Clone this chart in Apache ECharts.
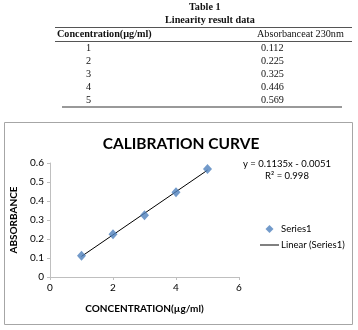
<!DOCTYPE html>
<html>
<head>
<meta charset="utf-8">
<script src="https://cdn.jsdelivr.net/npm/echarts@6/dist/echarts.min.js"></script>
<style>
    html, body { margin: 0; padding: 0; background: #fff; }
    #wrap { position: relative; width: 358px; height: 330px; overflow: hidden; }
    #chart { position: absolute; left: 0; top: 0; width: 358px; height: 330px; }
    .tt { position: absolute; font-family: 'Liberation Serif', 'DejaVu Serif', serif; font-size: 10.2px; color: #111; white-space: nowrap; line-height: 12px; }
    .b { font-weight: bold; }
    .rule { position: absolute; height: 0; }
</style>
</head>
<body>
<div id="wrap">
    <div id="chart"></div>
    <div id="table"></div>
</div>
<script>
    const concentration = [1, 2, 3, 4, 5]
    const absorbance = [0.112, 0.225, 0.325, 0.446, 0.569]
    const slope = 0.1135
    const intercept = -0.0051
    const rSquared = 0.998

    // table above the chart
    const table = document.getElementById('table')
    function addText(text, x, y, cls) {
        const d = document.createElement('div')
        d.className = 'tt ' + (cls || '')
        d.textContent = text
        d.style.left = x + 'px'
        d.style.top = y + 'px'
        table.appendChild(d)
        return d
    }
    function addRule(x1, x2, y, w, color) {
        const d = document.createElement('div')
        d.className = 'rule'
        d.style.left = x1 + 'px'
        d.style.width = (x2 - x1) + 'px'
        d.style.top = y + 'px'
        d.style.borderTop = w + 'px solid ' + color
        table.appendChild(d)
    }
    const t1 = addText('Table 1', 0, 1, 'b')
    t1.style.left = (205 - t1.offsetWidth / 2) + 'px'
    const t2 = addText('Linearity result data', 0, 14, 'b')
    t2.style.left = (210 - t2.offsetWidth / 2) + 'px'
    addRule(55, 352, 27, 1, '#555')
    addText('Concentration(\u00b5g/ml)', 57, 28, 'b')
    addText('Absorbanceat 230nm', 257, 28)
    addRule(55, 352, 41, 1, '#555')
    const rowY = [42, 55, 68, 81, 94]
    concentration.forEach((c, i) => {
        addText(String(c), 86, rowY[i])
        addText(absorbance[i].toFixed(3), 261, rowY[i])
    })
    addRule(62, 342, 106, 2, '#999')

    const chart = echarts.init(document.getElementById('chart'))
    const font = 'Lato, Open Sans, sans-serif'
    const axisGray = '#bfbfbf'
    const trend = [
        [concentration[0], slope * concentration[0] + intercept],
        [concentration[concentration.length - 1], slope * concentration[concentration.length - 1] + intercept]
    ]

    const options = {
        animation: false,
        title: {
            text: 'CALIBRATION CURVE',
            left: 176,
            top: 131,
            textAlign: 'center',
            textStyle: { fontFamily: font, fontSize: 15.5, fontWeight: 'bold', color: '#000' }
        },
        grid: { left: 50, right: 119, top: 163, bottom: 53 },
        xAxis: {
            type: 'value',
            min: 0,
            max: 6,
            interval: 2,
            name: 'CONCENTRATION(\u00b5g/ml)',
            nameLocation: 'middle',
            nameGap: 27,
            nameTextStyle: { fontFamily: font, fontSize: 10, fontWeight: 'bold', color: '#000' },
            axisLine: { lineStyle: { color: axisGray, width: 1 } },
            axisTick: { show: true, length: 3, lineStyle: { color: axisGray } },
            axisLabel: { fontFamily: font, fontSize: 10, color: '#000', margin: 6 },
            splitLine: { show: false }
        },
        yAxis: {
            type: 'value',
            min: 0,
            max: 0.6,
            interval: 0.1,
            name: 'ABSORBANCE',
            nameLocation: 'middle',
            nameGap: 30,
            nameTextStyle: { fontFamily: font, fontSize: 10, fontWeight: 'bold', color: '#000' },
            axisLine: { show: true, lineStyle: { color: axisGray, width: 1 } },
            axisTick: { show: true, length: 3, lineStyle: { color: axisGray } },
            axisLabel: {
                fontFamily: font, fontSize: 10, color: '#000', margin: 6,
                formatter: v => String(Math.round(v * 10) / 10)
            },
            splitLine: { show: false }
        },
        series: [
            {
                name: 'Linear (Series1)',
                type: 'line',
                data: trend,
                symbol: 'none',
                itemStyle: { color: '#000' },
                lineStyle: { color: '#000', width: 1 },
                z: 2
            },
            {
                name: 'Series1',
                type: 'scatter',
                data: concentration.map((c, i) => [c, absorbance[i]]),
                symbol: 'diamond',
                symbolSize: [9, 10],
                itemStyle: { color: '#4f81bd' },
                z: 3
            }
        ],
        legend: {
            orient: 'vertical',
            left: 260,
            top: 224,
            padding: 0,
            itemGap: 6,
            itemWidth: 19,
            itemHeight: 8,
            symbolKeepAspect: true,
            textStyle: { fontFamily: font, fontSize: 9.5, color: '#000', padding: [0, 0, 0, -3] },
            data: [
                { name: 'Series1', icon: 'path://M5,0 L10,5 L5,10 L0,5 Z', itemStyle: { color: '#4f81bd' } },
                { name: 'Linear (Series1)', icon: 'path://M0,0 L19,0 L19,1 L0,1 Z', itemStyle: { color: '#000' } }
            ]
        },
        graphic: [
            {
                type: 'rect',
                shape: { x: 4.5, y: 122.5, width: 348, height: 202 },
                style: { fill: 'none', stroke: '#a6a6a6', lineWidth: 1 },
                silent: true
            },
            {
                type: 'text',
                x: 287,
                y: 158,
                style: {
                    text: 'y = 0.1135x - 0.0051\nR\u00b2 = ' + rSquared,
                    align: 'center', font: '9.5px ' + font, fill: '#000', lineHeight: 12
                }
            }
        ]
    }
    chart.setOption(options)
</script>
</body>
</html>
